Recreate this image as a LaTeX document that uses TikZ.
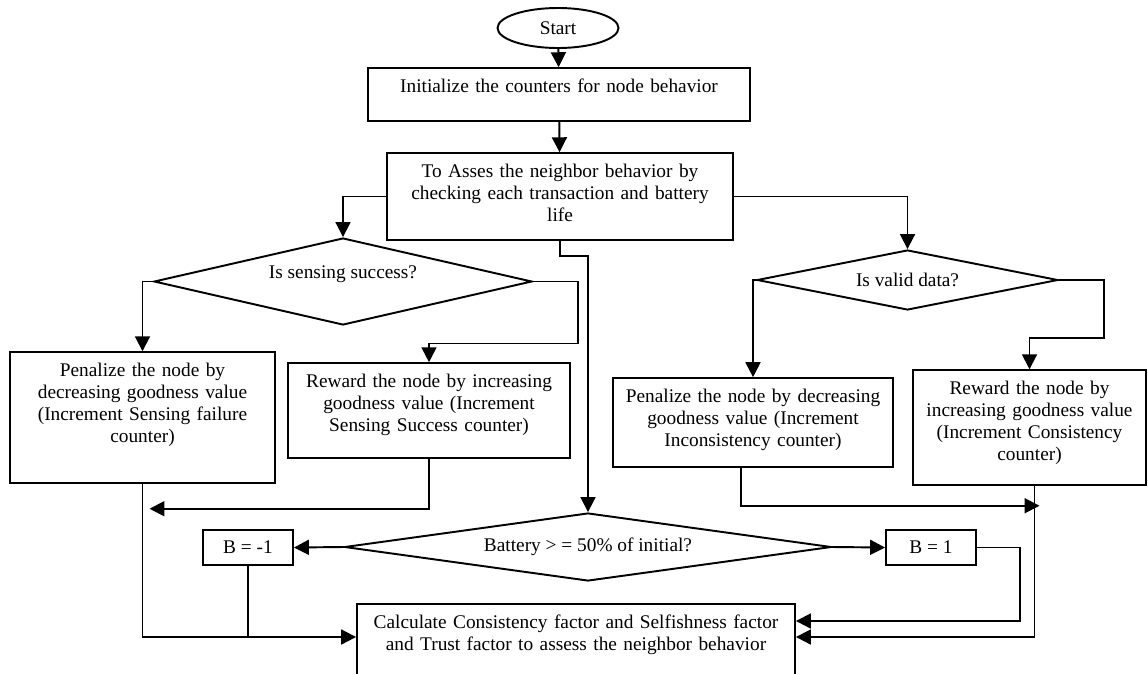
\documentclass[tikz,border=0pt]{standalone}
\usepackage{fontspec}
\setmainfont{Liberation Serif}
\usetikzlibrary{shapes.geometric,arrows.meta}

\begin{document}
\begin{tikzpicture}[x=0.02cm,y=-0.02cm,line width=1.1pt,>={Triangle[length=8.5pt,width=8.5pt]},
    every node/.style={font=\fontsize{11}{12.5}\selectfont},
    procbox/.style={draw,rectangle,align=center,inner xsep=0pt,inner ysep=0pt,text height=14pt},
    decision/.style={draw,diamond,inner sep=0pt},
    valbox/.style={draw,rectangle,minimum width=1.8cm,minimum height=0.7cm}]
    \useasboundingbox (0,0) rectangle (1148,673);

    \node[draw,ellipse,minimum width=2.42cm,minimum height=0.8cm,inner sep=0pt] (start) at (558,28) {Start};

    \node[procbox,text width=7.64cm,text depth=16pt] (init) at (559,94.5)
    {Initialize the counters for node behavior};

    \node[procbox,text width=6.92cm,text depth=35.3pt] (assess) at (560,196.5)
    {To Asses the neighbor behavior by\\ checking each transaction and battery\\ life};

    \node[decision,aspect=4.34,minimum width=7.56cm,minimum height=1.74cm,text depth=10.5pt] (d1) at (343,281.5)
    {Is sensing success?};

    \node[decision,aspect=5,minimum width=6.02cm,minimum height=1.2cm] (d2) at (907.5,280)
    {Is valid data?};

    \node[procbox,text width=5.3cm,text depth=60.3pt] (penS) at (142.5,417.5)
    {Penalize the node by\\ decreasing goodness value\\ (Increment Sensing failure\\ counter)};

    \node[procbox,text width=5.64cm,text depth=39.9pt] (rewS) at (429,410.5)
    {Reward the node by increasing\\ goodness value (Increment\\ Sensing Success counter)};

    \node[procbox,text width=5.6cm,text depth=36.5pt] (penV) at (753,422.5)
    {Penalize the node by decreasing\\ goodness value (Increment\\ Inconsistency counter)};

    \node[procbox,text width=4.66cm,text depth=51.2pt] (rewV) at (1029.5,427.5)
    {Reward the node by\\ increasing goodness value\\ (Increment Consistency\\ counter)};

    \node[decision,aspect=7.16,minimum width=9.74cm,minimum height=1.36cm] (bat) at (588,547)
    {Battery > = 50\% of initial?};

    \node[valbox] (bneg) at (248,547.5) {B = -1};
    \node[valbox] (bpos) at (931,547.5) {B = 1};

    \node[procbox,text width=8.76cm,text depth=26.8pt] (calc) at (576,640)
    {Calculate Consistency factor and Selfishness factor\\ and Trust factor to assess the neighbor behavior};

    \coordinate (calcin) at ([yshift=0.06cm]calc.west);

    \draw[->] (start) -- (init);
    \draw[->] (init) -- (assess);
    \draw[->] (assess.west) -| (d1.north);
    \draw[->] (assess.east) -| (d2.north);
    \draw[->] (d1.west) -| (penS.north);
    \draw[->] (d1.east) -- ++(45,0) -- ++(0,62) -| (rewS.north);
    \draw[->] (d2.west) -| (penV.north);
    \draw[->] (d2.east) -- ++(45,0) -- ++(0,58) -| (rewV.north);

    \draw[->] (rewS.south) |- ([xshift=0.14cm,yshift=-0.5cm]penS.south);
    \draw[->] ([xshift=-0.24cm]penV.south) |- ([xshift=0.2cm,yshift=-0.4cm]rewV.south);

    \draw[->] (assess.south) -- ++(0,15) -| (bat.north);
    \draw[->] (bat.west) -- (bneg.east);
    \draw[->] (bat.east) -- (bpos.west);

    \draw[->] (penS.south) |- (calcin);
    \draw (bneg.south) -- (bneg.south |- calcin);
    \draw[->] (bpos.east) -- ++(43,0) |- ([yshift=0.38cm]calc.east);
    \draw[->] ([xshift=0.1cm]rewV.south) |- ([yshift=0.06cm]calc.east);
\end{tikzpicture}
\end{document}
